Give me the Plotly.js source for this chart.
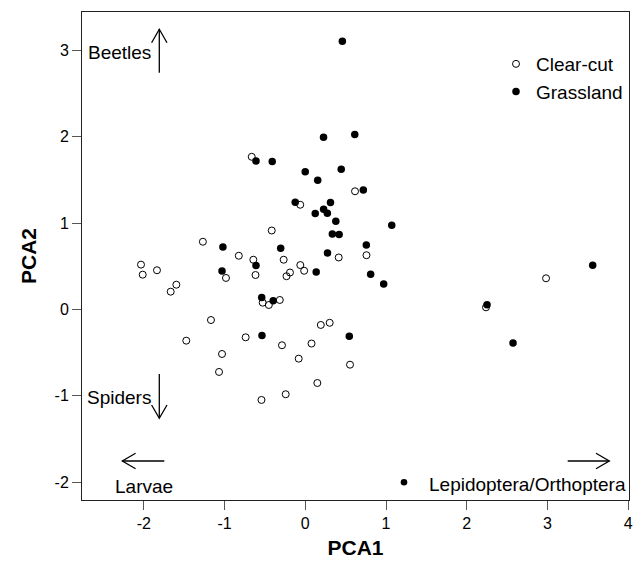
<!DOCTYPE html>
<html>
<head>
<meta charset="utf-8">
<script src="https://cdn.plot.ly/plotly-3.0.1.min.js"></script>
<style>html,body{margin:0;padding:0;background:#fff;}#chart{width:640px;height:564px;}</style>
</head>
<body>
<div id="chart"></div>
<script>
// Clear-cut sites (open circles)
var clearcutPCA1 = [-0.664, 0.616, -0.063, -0.416, -1.269, -0.824, -0.644, -0.268, 0.414, 0.758,
  -0.062, -0.014, -2.036, -2.015, -1.838, -0.983, -0.617, -0.190, -0.233, -1.598,
  -1.668, -0.528, -0.452, -0.316, -1.169, -1.475, -0.739, -0.289, 0.192, 0.302,
  0.077, -0.082, 0.554, -1.032, -1.069, 0.149, -0.243, -0.543, 2.239, 2.983];
var clearcutPCA2 = [1.767, 1.368, 1.212, 0.914, 0.784, 0.622, 0.576, 0.576, 0.602, 0.628,
  0.514, 0.448, 0.519, 0.403, 0.454, 0.365, 0.399, 0.428, 0.385, 0.287,
  0.206, 0.079, 0.052, 0.110, -0.122, -0.361, -0.322, -0.414, -0.179, -0.154,
  -0.394, -0.569, -0.639, -0.515, -0.723, -0.851, -0.981, -1.047, 0.025, 0.361];
// Grassland sites (filled circles)
var grassPCA1 = [0.459, 0.226, 0.613, -0.611, -0.410, -0.001, 0.445, 0.154, 0.719, -0.125,
  0.312, 0.227, 0.273, 0.123, 0.378, 1.071, 0.335, 0.419, 0.756, -1.021,
  -0.305, 0.275, -0.611, -1.032, 0.135, 0.810, 0.971, -0.540, -0.398, -0.537,
  0.545, 2.252, 2.574, 3.561];
var grassPCA2 = [3.104, 1.994, 2.025, 1.719, 1.713, 1.594, 1.623, 1.495, 1.383, 1.242,
  1.238, 1.161, 1.113, 1.110, 1.021, 0.975, 0.874, 0.868, 0.747, 0.723,
  0.708, 0.654, 0.509, 0.446, 0.434, 0.407, 0.295, 0.139, 0.102, -0.301,
  -0.310, 0.056, -0.388, 0.512];
var seriesNames = ['Clear-cut', 'Grassland'];
var xTicks = [-2, -1, 0, 1, 2, 3, 4];
var yTicks = [-2, -1, 0, 1, 2, 3];

var FONT = 'Liberation Sans, Arial, Helvetica, sans-serif';
var W = 640, H = 564;
var M = {l: 82, r: 11, t: 12, b: 64};
var PW = W - M.l - M.r, PH = H - M.t - M.b;
function px(x) { return (x - M.l) / PW; }
function py(y) { return (H - M.b - y) / PH; }
function seg(pts) {
  return pts.map(function (p, i) { return (i ? 'L' : 'M') + px(p[0]).toFixed(5) + ',' + py(p[1]).toFixed(5); }).join(' ');
}
function arrowShape(pts) {
  return {type: 'path', xref: 'paper', yref: 'paper', path: seg(pts), line: {color: '#000', width: 1.3}};
}

var traces = [
  {x: clearcutPCA1, y: clearcutPCA2, name: seriesNames[0], type: 'scatter', mode: 'markers',
   marker: {symbol: 'circle-open', size: 7, color: '#000', line: {width: 1, color: '#000'}}},
  {x: grassPCA1, y: grassPCA2, name: seriesNames[1], type: 'scatter', mode: 'markers',
   marker: {symbol: 'circle', size: 7.5, color: '#000'}}
];

var axisCommon = {
  showgrid: false, zeroline: false, showline: true, mirror: true, linecolor: '#222', linewidth: 1,
  ticks: 'outside', ticklen: 9, tickcolor: '#555', tickwidth: 1,
  tickfont: {family: FONT, size: 16, color: '#000'}
};

var layout = {
  width: W, height: H, margin: M,
  paper_bgcolor: '#fff', plot_bgcolor: '#fff',
  font: {family: FONT, color: '#000'},
  showlegend: true,
  legend: {x: px(496), y: py(45), xanchor: 'left', yanchor: 'top', bgcolor: 'rgba(0,0,0,0)',
           font: {family: FONT, size: 19, color: '#000'}, tracegroupgap: 0},
  xaxis: Object.assign({}, axisCommon, {range: [-2.767, 4.011], tickvals: xTicks, ticktext: xTicks.map(String),
    title: {text: '<b>PCA1</b>', font: {family: FONT, size: 21, color: '#000'}, standoff: 9}}),
  yaxis: Object.assign({}, axisCommon, {range: [-2.205, 3.443], tickvals: yTicks, ticktext: yTicks.map(String),
    title: {text: '<b>PCA2</b>', font: {family: FONT, size: 21, color: '#000'}, standoff: 12}}),
  shapes: [
    arrowShape([[159.3, 72.7], [159.3, 29.3]]),
    arrowShape([[151.6, 42.7], [159.3, 29.3], [167.0, 42.7]]),
    arrowShape([[159.3, 374.0], [159.3, 418.3]]),
    arrowShape([[151.6, 405.0], [159.3, 418.3], [167.0, 405.0]]),
    arrowShape([[164.3, 461.0], [122.3, 461.0]]),
    arrowShape([[135.6, 453.3], [122.3, 461.0], [135.6, 468.7]]),
    arrowShape([[567.7, 461.0], [609.3, 461.0]]),
    arrowShape([[596.0, 453.3], [609.3, 461.0], [596.0, 468.7]]),
    {type: 'circle', xref: 'paper', yref: 'paper', x0: px(400.7), x1: px(407.3), y0: py(485.6), y1: py(479.0),
     fillcolor: '#000', line: {width: 0}}
  ],
  annotations: [
    {text: 'Beetles', xref: 'paper', yref: 'paper', x: px(86), y: py(53), xanchor: 'left', yanchor: 'middle', showarrow: false, font: {family: FONT, size: 19, color: '#000'}},
    {text: 'Spiders', xref: 'paper', yref: 'paper', x: px(85), y: py(397.5), xanchor: 'left', yanchor: 'middle', showarrow: false, font: {family: FONT, size: 19, color: '#000'}},
    {text: 'Larvae', xref: 'paper', yref: 'paper', x: px(113.3), y: py(486), xanchor: 'left', yanchor: 'middle', showarrow: false, font: {family: FONT, size: 19, color: '#000'}},
    {text: 'Lepidoptera/Orthoptera', xref: 'paper', yref: 'paper', x: px(426.7), y: py(484), xanchor: 'left', yanchor: 'middle', showarrow: false, font: {family: FONT, size: 19, color: '#000'}}
  ]
};

Plotly.newPlot('chart', traces, layout, {staticPlot: true, displayModeBar: false});
</script>
</body>
</html>
